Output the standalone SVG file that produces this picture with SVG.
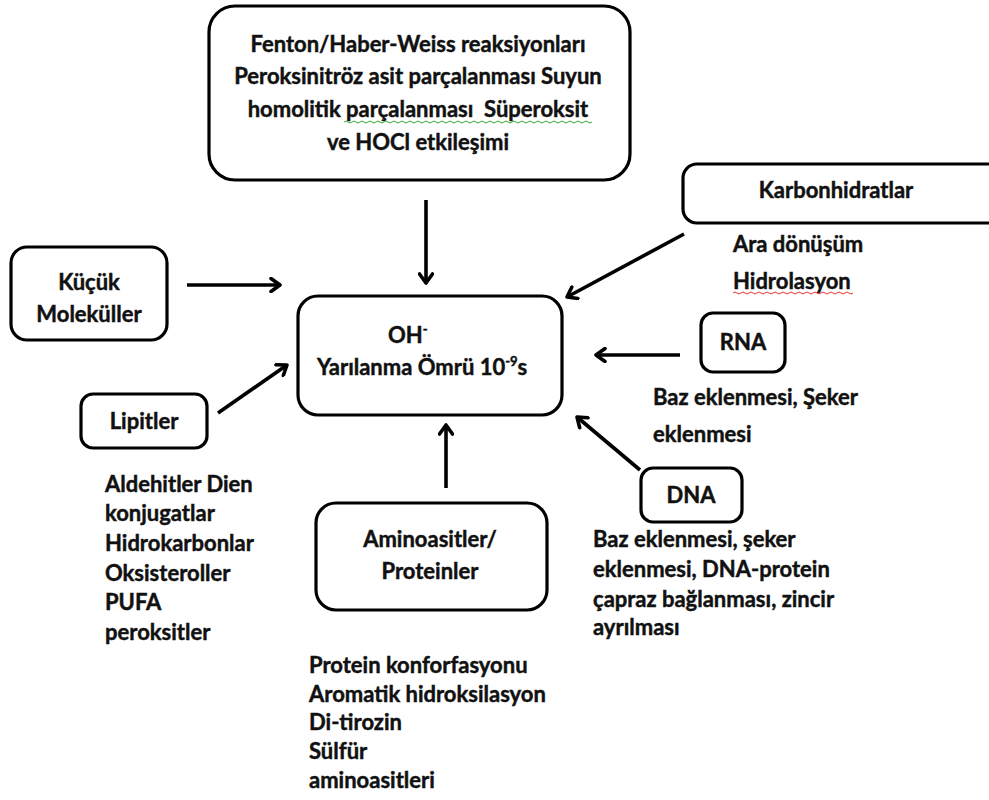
<svg xmlns="http://www.w3.org/2000/svg" width="989" height="800" viewBox="0 0 989 800">
<defs>
<marker id="ah" viewBox="0 0 16 16" refX="12" refY="8" markerWidth="16" markerHeight="16" markerUnits="userSpaceOnUse" orient="auto">
<path d="M3,1.5 L12,8 L3,14.5" fill="none" stroke="#000" stroke-width="3.6" stroke-linecap="round" stroke-linejoin="round"/>
</marker>
<style>
.box{fill:#fff;stroke:#000;stroke-width:3.2}
.t{font-family:Lato,"Open Sans","Liberation Sans",sans-serif;font-weight:bold;font-size:22px;fill:#111;stroke:#111;stroke-width:0.45}
.c{text-anchor:middle}
.con{fill:none;stroke:#000;stroke-width:3.6;marker-end:url(#ah)}
.sq{fill:none;stroke-width:1}
</style>
</defs>
<rect width="989" height="800" fill="#fff"/>
<g id="top">
<rect class="box" x="209" y="6" width="421" height="174" rx="26"/>
<text class="t c" x="418" y="52">Fenton/Haber-Weiss reaksiyonları</text>
<text class="t c" x="418" y="84">Peroksinitröz asit parçalanması Suyun</text>
<text class="t c" x="418" y="117">homolitik parçalanması&#160; Süperoksit</text>
<text class="t c" x="418" y="150">ve HOCl etkileşimi</text>
<path class="sq" stroke="#3a3" d="M344,122 q2,-2 4,0 t4,0 t4,0 t4,0 t4,0 t4,0 t4,0 t4,0 t4,0 t4,0 t4,0 t4,0 t4,0 t4,0 t4,0 t4,0 t4,0 t4,0 t4,0 t4,0 t4,0 t4,0 t4,0 t4,0 t4,0 t4,0 t4,0 t4,0 t4,0 t4,0 t4,0 t4,0 t4,0 t4,0 t4,0 t4,0 t4,0 t4,0 t4,0 t4,0 t4,0 t4,0 t4,0 t4,0 t4,0 t4,0 t4,0 t4,0 t4,0 t4,0 t4,0 t4,0 t4,0 t4,0 t4,0 t4,0 t4,0 t4,0 t4,0 t4,0 t4,0 t4,0"/>
</g>
<g id="center">
<rect class="box" x="298" y="296" width="264" height="119" rx="20"/>
<text class="t" x="388" y="343">OH<tspan font-size="13" dy="-9">-</tspan></text>
<text class="t" x="317" y="375">Yarılanma Ömrü 10<tspan font-size="13" dy="-9">-9</tspan><tspan dy="9">s</tspan></text>
</g>
<g id="kucuk">
<rect class="box" x="11" y="247" width="156" height="93" rx="16"/>
<text class="t c" x="89" y="290">Küçük</text>
<text class="t c" x="89" y="322">Moleküller</text>
</g>
<g id="lipitler">
<rect class="box" x="81" y="394" width="126" height="54" rx="12"/>
<text class="t c" x="144" y="429">Lipitler</text>
<text class="t" x="105" y="492">Aldehitler Dien</text>
<text class="t" x="105" y="521">konjugatlar</text>
<text class="t" x="105" y="551">Hidrokarbonlar</text>
<text class="t" x="105" y="581">Oksisteroller</text>
<text class="t" x="105" y="610">PUFA</text>
<text class="t" x="105" y="640">peroksitler</text>
</g>
<g id="amino">
<rect class="box" x="316" y="503" width="231" height="107" rx="20"/>
<text class="t c" x="430" y="547">Aminoasitler/</text>
<text class="t c" x="430" y="579">Proteinler</text>
<text class="t" x="309" y="673">Protein konforfasyonu</text>
<text class="t" x="309" y="702">Aromatik hidroksilasyon</text>
<text class="t" x="309" y="730">Di-tirozin</text>
<text class="t" x="309" y="759">Sülfür</text>
<text class="t" x="309" y="788">aminoasitleri</text>
</g>
<g id="karbon">
<rect class="box" x="683" y="164" width="320" height="59" rx="14"/>
<text class="t c" x="836" y="198">Karbonhidratlar</text>
<text class="t" x="733" y="252">Ara dönüşüm</text>
<text class="t" x="733" y="289">Hidrolasyon</text>
<path class="sq" stroke="#e33" d="M733,293 q2,-2 4,0 t4,0 t4,0 t4,0 t4,0 t4,0 t4,0 t4,0 t4,0 t4,0 t4,0 t4,0 t4,0 t4,0 t4,0 t4,0 t4,0 t4,0 t4,0 t4,0 t4,0 t4,0 t4,0 t4,0 t4,0 t4,0 t4,0 t4,0 t4,0 t4,0"/>
</g>
<g id="rna">
<rect class="box" x="701" y="313" width="84" height="59" rx="12"/>
<text class="t c" x="743" y="350">RNA</text>
<text class="t" x="653" y="405">Baz eklenmesi, Şeker</text>
<text class="t" x="653" y="442">eklenmesi</text>
</g>
<g id="dna">
<rect class="box" x="641" y="468" width="101" height="54" rx="12"/>
<text class="t c" x="691" y="503">DNA</text>
<text class="t" x="593" y="547">Baz eklenmesi, şeker</text>
<text class="t" x="593" y="577">eklenmesi, DNA-protein</text>
<text class="t" x="593" y="607">çapraz bağlanması, zincir</text>
<text class="t" x="593" y="635">ayrılması</text>
</g>
<g id="connectors">
<line class="con" x1="426" y1="200" x2="426" y2="283"/>
<line class="con" x1="187" y1="285" x2="280" y2="285"/>
<line class="con" x1="218" y1="413" x2="287" y2="365"/>
<line class="con" x1="446" y1="488" x2="446" y2="425"/>
<line class="con" x1="684" y1="234" x2="567" y2="297"/>
<line class="con" x1="680" y1="355" x2="596" y2="355"/>
<line class="con" x1="640" y1="470" x2="577" y2="417"/>
</g>
</svg>
